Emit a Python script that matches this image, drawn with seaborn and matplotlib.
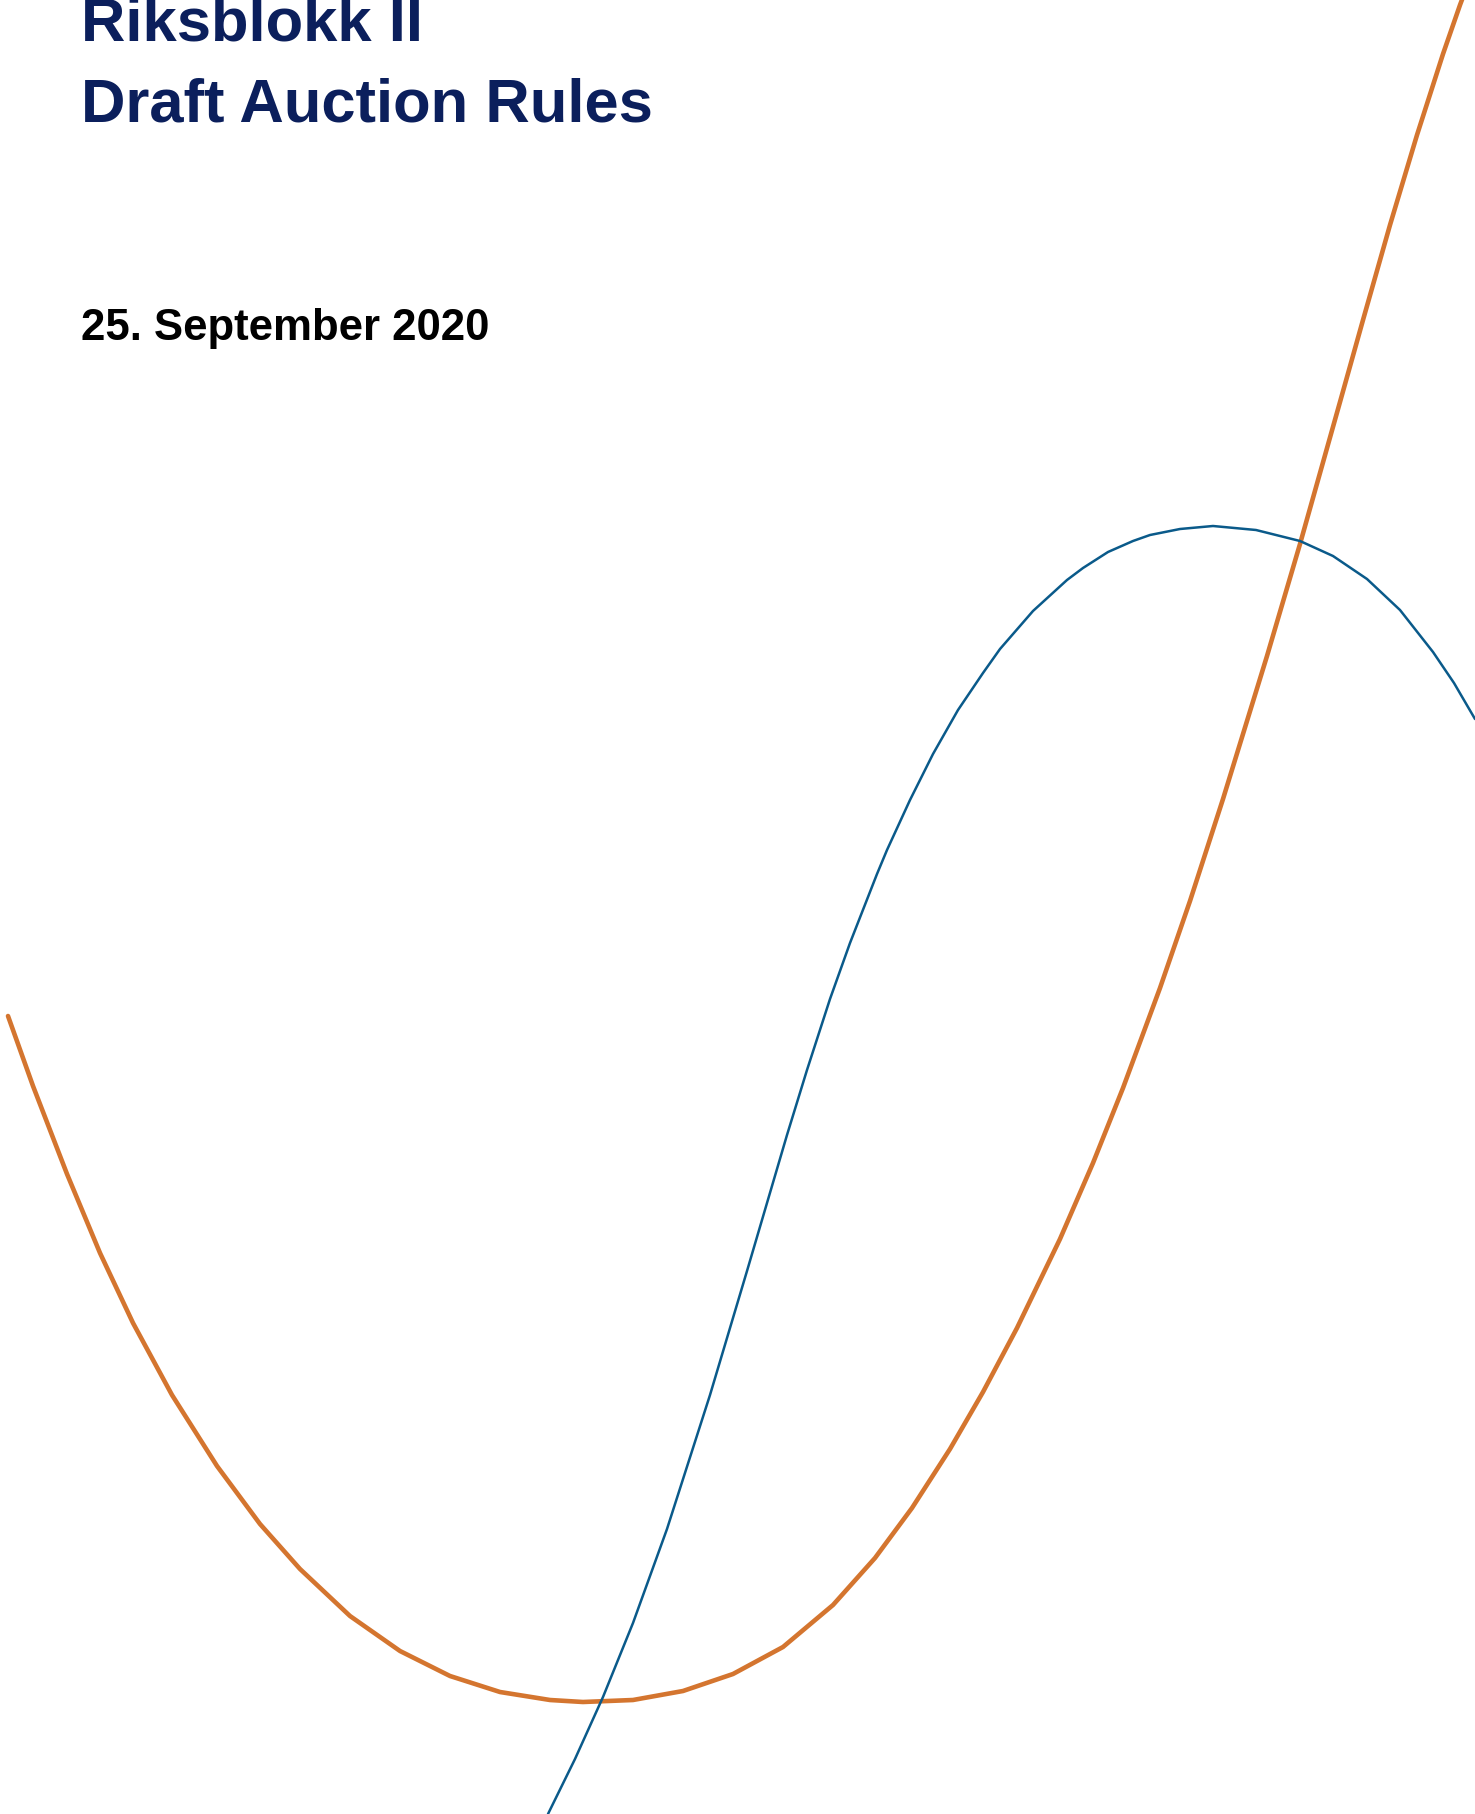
import matplotlib
matplotlib.use('Agg')
import matplotlib.pyplot as plt
import seaborn as sns
import pandas as pd

# Cover page text
title_lines = ['Riksblokk II', 'Draft Auction Rules']
date_text = '25. September 2020'

# Orange curve (x to the right, y downwards)
orange_x = [8, 33, 67, 100, 133, 172, 217, 260, 300, 350, 400, 450, 500, 550, 583,
            633, 683, 733, 783, 833, 875, 912, 950, 983, 1017, 1060, 1093, 1123, 1160,
            1190, 1223, 1267, 1300, 1320, 1340, 1363, 1390, 1417, 1443, 1460, 1475]
orange_y = [1017, 1087, 1175, 1254, 1324, 1396, 1467, 1525, 1570, 1617, 1652, 1677, 1693, 1701, 1703,
            1701, 1692, 1675, 1648, 1606, 1559, 1509, 1450, 1393, 1329, 1240, 1164, 1089, 989,
            902, 800, 657, 545, 474, 403, 321, 226, 136, 55, 6, -34]

# Blue curve
blue_x = [548, 575, 603, 633, 667, 710, 747, 767, 787, 807, 830, 850, 877, 887, 910,
          933, 958, 983, 1000, 1033, 1067, 1083, 1108, 1133, 1150, 1180, 1213, 1256,
          1300, 1333, 1367, 1400, 1433, 1454, 1475]
blue_y = [1815, 1760, 1698, 1624, 1530, 1396, 1272, 1204, 1136, 1071, 1000, 944, 875, 851, 801,
          755, 711, 674, 650, 612, 581, 569, 553, 542, 536, 530, 527, 531,
          542, 557, 580, 611, 653, 684, 720]

orange = pd.DataFrame({'x': orange_x, 'y': orange_y})
blue = pd.DataFrame({'x': blue_x, 'y': blue_y})

sns.set_theme(style='white')
plt.rcParams['font.family'] = ['Liberation Sans', 'DejaVu Sans']

fig = plt.figure(figsize=(14.75, 18.15), dpi=100)
ax = fig.add_axes([0, 0, 1, 1])

sns.lineplot(data=orange, x='x', y='y', sort=False, estimator=None,
             color='#D4752F', linewidth=3.3, solid_joinstyle='round', ax=ax)
sns.lineplot(data=blue, x='x', y='y', sort=False, estimator=None,
             color='#0A5A8A', linewidth=1.8, solid_joinstyle='round', ax=ax)

ax.set_xlim(0, 1475)
ax.set_ylim(1815, 0)
ax.axis('off')

# Title and date
ax.text(81, 40, title_lines[0], fontsize=44.3, fontweight='bold', color='#0B1F5C', va='baseline')
ax.text(81, 121, title_lines[1], fontsize=44.3, fontweight='bold', color='#0B1F5C', va='baseline')
ax.text(81, 340, date_text, fontsize=31.5, fontweight='bold', color='black', va='baseline')

fig.savefig('out.png', dpi=100, facecolor='white')
